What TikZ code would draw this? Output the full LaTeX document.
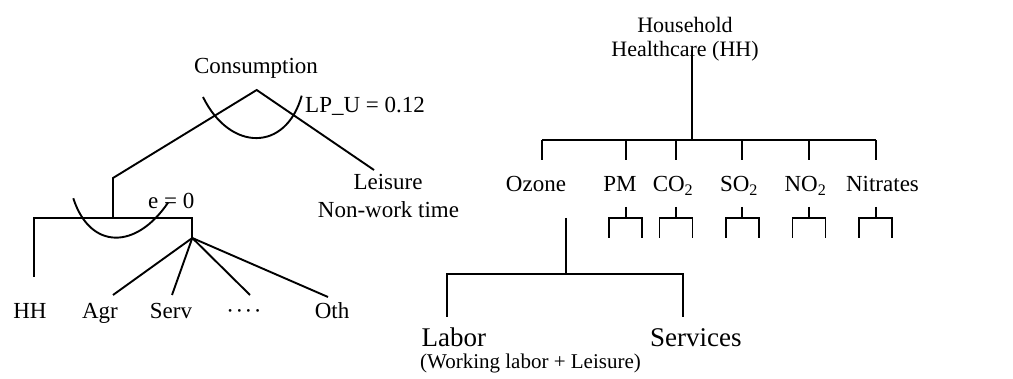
\documentclass[tikz,border=0pt]{standalone}
\usepackage{fontspec}
\setmainfont{Liberation Serif}
\begin{document}
\begin{tikzpicture}[x=1pt,y=-1pt,
  lbl/.style={inner sep=0pt, anchor=base, font=\fontsize{23}{27}\selectfont},
  lblw/.style={lbl, anchor=base west},
  big/.style={inner sep=0pt, anchor=base west, font=\fontsize{27}{31}\selectfont},
  small/.style={inner sep=0pt, anchor=base west, font=\fontsize{21}{24}\selectfont},
  ln/.style={line width=1.9pt},
  lnr/.style={line width=1.7pt}]
\useasboundingbox (0,0) rectangle (1013,379);

% ---------------- left tree ----------------
\node[lbl] (cons) at (256,74) {Consumption};
\coordinate (apex) at (256.7,90);
\coordinate (kneeL) at (113,178);
\coordinate (jL) at (113,218.3);
\coordinate (leisEnd) at (374,170);
\node[lbl] (leis) at (388,189.3) {Leisure};
\node[lbl] (nwt) at (388.5,217.3) {Non-work time};
\draw[ln] (jL) -- (kneeL) -- (apex) -- (leisEnd);
\coordinate (u1a) at (203,97);
\coordinate (u1b) at (301.7,95.7);
\draw[ln] (u1a) .. controls (230,152) and (286,152) .. (u1b);
\node[lblw] (lpu) at (305,113) {LP\_U = 0.12};

\coordinate (barL) at (34,218.3);
\coordinate (barR) at (192.3,218.3);
\coordinate (fan) at (192.3,238);
\coordinate (hhEnd) at (34,277);
\draw[ln] (hhEnd) -- (barL) -- (barR) -- (fan);
\coordinate (u2a) at (73.3,198.3);
\coordinate (u2b) at (168,202.7);
\draw[ln] (u2a) .. controls (90,250) and (136,250) .. (u2b);
\node[lbl] (e0) at (171.3,208.3) {e = 0};

\coordinate (agrEnd) at (113,295);
\coordinate (servEnd) at (172,295);
\coordinate (dotsEnd) at (250,295);
\coordinate (othEnd) at (328,297);
\draw[ln] (fan) -- (agrEnd);
\draw[ln] (fan) -- (servEnd);
\draw[ln] (fan) -- (dotsEnd);
\draw[ln] (fan) -- (othEnd);
\node[lbl] (hh) at (30,318.3) {HH};
\node[lbl] (agr) at (100,318.3) {Agr};
\node[lbl] (serv) at (171,318.3) {Serv};
\node[lbl] (dots) at (244,318.3) {·\hspace{1.5pt}·\hspace{1.5pt}·\hspace{1.5pt}·};
\node[lbl] (oth) at (332,318.3) {Oth};

% ---------------- right tree ----------------
\node[lbl, font=\fontsize{22}{26}\selectfont] (hh1) at (685,32.3) {Household};
\node[lbl, font=\fontsize{22}{26}\selectfont] (hh2) at (685,56.5) {Healthcare (HH)};
\coordinate (rtop) at (692,50);
\coordinate (rbar) at (692,140);
\draw[lnr] (rtop) -- (rbar);
\coordinate (rbL) at (542.3,140);
\coordinate (rbR) at (875.7,140);
\draw[lnr] (rbL) -- (rbR);
\foreach \x/\n in {542.3/a,625.7/b,676/c,742.3/d,809/e,875.7/f}{
  \coordinate (dt\n) at (\x,140);
  \coordinate (db\n) at (\x,160);
  \draw[lnr] (dt\n) -- (db\n);
}
\node[lbl] (ozone) at (536,191.5) {Ozone};
\node[lbl] (pm) at (620,191.5) {PM};
\node[lbl] (co2) at (673,191.5) {CO\textsubscript{2}};
\node[lbl] (so2) at (739,191.5) {SO\textsubscript{2}};
\node[lbl] (no2) at (805.5,191.5) {NO\textsubscript{2}};
\node[lbl] (nitr) at (882.5,191.5) {Nitrates};
\foreach \x/\n in {625.7/b,676/c,742.3/d,809/e,875.7/f}{
  \coordinate (st\n) at (\x,207);
  \coordinate (sj\n) at (\x,218);
  \coordinate (sl\n) at (\x-16.5,218);
  \coordinate (sr\n) at (\x+16.5,218);
  \coordinate (sld\n) at (\x-16.5,238);
  \coordinate (srd\n) at (\x+16.5,238);
  \draw[lnr] (st\n) -- (sj\n);
  \draw[lnr] (sld\n) -- (sl\n) -- (sr\n) -- (srd\n);
}
\coordinate (ozTop) at (565.7,218);
\coordinate (ozJ) at (565.7,274.3);
\draw[lnr] (ozTop) -- (ozJ);
\coordinate (obL) at (447.3,274.3);
\coordinate (obR) at (683.3,274.3);
\coordinate (obLd) at (447.3,316.7);
\coordinate (obRd) at (683.3,316.7);
\draw[lnr] (obLd) -- (obL) -- (obR) -- (obRd);
\node[big] (labor) at (421.5,347) {Labor};
\node[big] (services) at (650,347) {Services};
\node[small] (wl) at (420,368.5) {(Working labor + Leisure)};
\end{tikzpicture}
\end{document}
